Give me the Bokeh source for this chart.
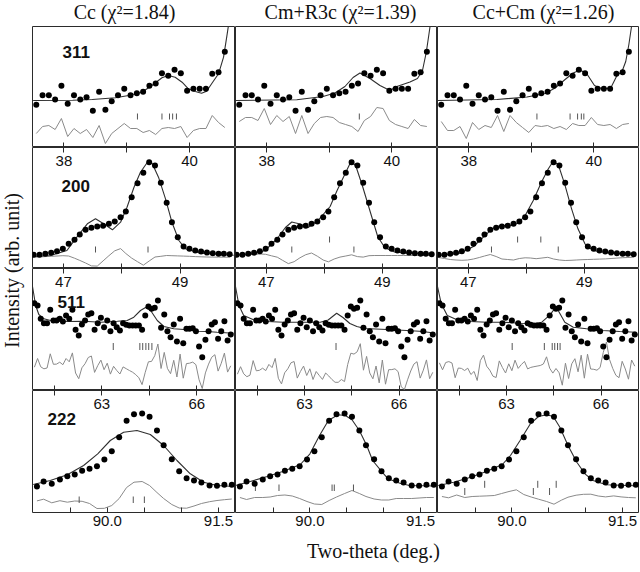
import math
from bokeh.plotting import figure
from bokeh.models import Range1d, LinearAxis, FixedTicker, Label, PrintfTickFormatter
from bokeh.layouts import row, column
from bokeh.embed import file_html
from bokeh.resources import INLINE

# ---------------- texts / axes ----------------
column_titles = ["Cc (\u03c7\u00b2=1.84)", "Cm+R3c (\u03c7\u00b2=1.39)", "Cc+Cm (\u03c7\u00b2=1.26)"]
reflections = ["311", "200", "511", "222"]
x_tick_labels = [[38, 40], [47, 49], [63, 66], [90.0, 91.5]]
x_minor_ticks = [[39], [48], [61.5, 64.5], [89.5, 90.5, 91.0]]
x_limits = [(37.50, 40.73), (46.47, 49.95), (60.81, 67.22), (88.99, 91.73)]
y_label = "Intensity (arb. unit)"
x_label = "Two-theta (deg.)"

# ---------------- 311 ----------------
r311_x = [37.56, 37.66, 37.76, 37.86, 37.96, 38.06, 38.16, 38.26, 38.36, 38.46, 38.56, 38.66, 38.76, 38.86,
          38.96, 39.06, 39.16, 39.26, 39.36, 39.46, 39.56, 39.66, 39.76, 39.86, 39.96, 40.06, 40.16, 40.26,
          40.36, 40.46, 40.56]
r311_obs = [42.7, 52.3, 52.3, 48.0, 61.7, 43.7, 52.3, 48.0, 50.3, 36.7, 55.7, 37.7, 46.3, 52.3, 58.7, 52.3,
            54.3, 55.7, 61.7, 64.0, 74.3, 71.7, 77.7, 74.3, 56.7, 58.7, 58.7, 58.7, 73.7, 75.3, 95.7]
r311_cc_calc_x = [37.51, 38.14, 38.45, 38.82, 39.03, 39.24, 39.40, 39.56, 39.66, 39.77, 39.88, 39.98, 40.09,
                  40.19, 40.27, 40.35, 40.46, 40.54, 40.59, 40.63, 40.68]
r311_cc_calc_y = [47, 47.3, 48, 49.7, 52, 55.3, 62, 69.7, 72, 70.3, 65.3, 58.7, 56, 54.3, 56.3, 63.7, 73.7,
                  90.3, 110.3, 127, 150]
r311_cc_diff = [14, 21, 22, 18, 29, 11, 19, 14, 18, 10, 22, 4, 14, 19, 24, 19, 19, 15, 17, 13, 19, 20, 19, 21,
                10, 17, 19, 19, 32, 25, 20]
r311_cc_ticks = [39.17, 39.56, 39.68, 39.73, 39.79]

r311_cmr3c_calc_x = [37.50, 38.48, 38.90, 39.09, 39.25, 39.38, 39.49, 39.65, 39.81, 39.97, 40.08, 40.29, 40.41,
                     40.49, 40.55, 40.59, 40.62, 40.68]
r311_cmr3c_calc_y = [47, 47.7, 51, 54.5, 61, 70, 74.5, 69, 62, 57, 61, 65.5, 69, 77, 95, 112, 125, 150]
r311_cmr3c_diff = [26, 30, 30, 27, 39, 23, 32, 26, 31, 14, 32, 14, 24, 30, 31, 30, 25, 23, 21, 16, 27, 31, 40,
                   39, 27, 23, 21, 19, 28, 22, 21]
r311_cmr3c_ticks = [39.48]

r311_cccm_calc_x = [37.50, 38.45, 38.93, 39.22, 39.38, 39.54, 39.67, 39.78, 39.89, 40.01, 40.14, 40.27, 40.37,
                    40.45, 40.51, 40.56, 40.60, 40.64, 40.68]
r311_cccm_calc_y = [47, 48, 50.5, 54, 59.5, 68, 74.5, 77.5, 73.5, 62, 58.5, 59.5, 72, 76, 86, 103, 120, 140, 160]
r311_cccm_diff = [26, 17, 17, 21, 9, 25, 18, 22, 20, 32, 16, 32, 25, 20, 15, 22, 21, 22, 19, 21, 18, 24, 22, 22,
                  30, 23, 22, 23, 19, 23, 24]
r311_cccm_ticks = [39.09, 39.62, 39.74, 39.80, 39.84]

# ---------------- 200 ----------------
r200_x = [46.49, 46.59, 46.69, 46.79, 46.89, 46.99, 47.09, 47.19, 47.28, 47.38, 47.48, 47.58, 47.68, 47.78,
          47.88, 47.98, 48.07, 48.17, 48.27, 48.37, 48.47, 48.57, 48.67, 48.77, 48.86, 48.96, 49.06, 49.16,
          49.26, 49.36, 49.46, 49.56, 49.66, 49.75, 49.85]
r200_obs = [13.7, 13.7, 14.7, 15.7, 17.3, 19.7, 24.7, 28.7, 34.0, 38.7, 40.7, 42.0, 42.7, 44.7, 47.0, 51.3,
            57.0, 71.3, 85.3, 95.7, 106.3, 103.0, 85.7, 65.7, 46.3, 31.3, 22.0, 19.7, 18.0, 17.0, 16.0, 15.3,
            14.7, 14.7, 14.3]
r200_cc_calc_x = [46.49, 46.78, 47.06, 47.23, 47.41, 47.55, 47.69, 47.84, 47.98, 48.09, 48.21, 48.32, 48.44,
                  48.52, 48.63, 48.75, 48.86, 48.98, 49.09, 49.35, 49.92]
r200_cc_calc_y = [12, 13, 18, 31.3, 44.7, 49.7, 44.7, 38.7, 46.3, 61.3, 81.3, 96.3, 106.3, 105.3, 91.3, 69.7,
                  46.3, 28, 19.7, 15.3, 13.3]
r200_cc_diff = [11.3, 11.6, 11.9, 12.2, 12.5, 12.8, 12.5, 10.3, 8.1, 5.5, 2.6, 2.4, 7.6, 12.8, 17.7, 19.9, 15.0,
                10.4, 6.8, 3.3, 7.5, 11.5, 12.2, 13.0, 12.8, 12.6, 12.4, 12.2, 11.9, 11.7, 11.5, 11.4, 11.4,
                11.3, 11.3]
r200_cc_ticks_a = [47.55, 48.45]
r200_cc_ticks_b = []

r200_cmr3c_calc_x = [46.47, 46.81, 46.98, 47.19, 47.33, 47.44, 47.58, 47.72, 47.89, 48.10, 48.22, 48.36, 48.46,
                     48.54, 48.66, 48.80, 48.92, 49.04, 49.21, 49.47, 49.85]
r200_cmr3c_calc_y = [13.5, 15, 18, 30, 41, 46.5, 44.5, 41, 48, 62, 78, 95, 107, 103, 82, 55, 32, 21, 16.5, 15,
                     14.5]
r200_cmr3c_diff = [13.1, 13.4, 13.8, 14.1, 14.5, 14.2, 12.7, 11.3, 8.2, 4.9, 6.8, 10.7, 13.8, 15.5, 12.3, 8.5,
                   6.7, 9.5, 11.4, 12.5, 13.7, 11.9, 11.4, 12.8, 13.0, 13.0, 13.0, 13.0, 13.0, 13.0, 13.0, 13.0,
                   13.0, 13.0, 13.0]
r200_cmr3c_ticks_a = [47.44, 48.51]
r200_cmr3c_ticks_b = [48.09]

r200_cccm_calc_x = [46.49, 46.86, 47.09, 47.26, 47.41, 47.55, 47.72, 47.86, 47.98, 48.12, 48.26, 48.38, 48.46,
                    48.55, 48.66, 48.78, 48.89, 49.01, 49.15, 49.44, 49.86]
r200_cccm_calc_y = [13, 15.3, 22, 31.3, 39.7, 43, 43, 45.3, 53, 68, 86.3, 99.7, 107, 104, 84.7, 59.7, 39.7,
                    24.7, 18, 15.3, 14]
r200_cccm_diff = [11, 10, 9, 8.5, 8.2, 8.5, 9.5, 11, 12.5, 14, 12, 9.5, 9, 8.5, 10, 10.7, 10.5, 9.8, 10.5, 11.2,
                  9.5, 8.5, 8, 8.2, 8.5, 8.8, 9, 9.2, 9.4, 9.6, 10, 10.4, 10.8, 11, 11.3]
r200_cccm_ticks_a = [47.40, 48.55]
r200_cccm_ticks_b = [47.85, 48.25]

# ---------------- 511 ----------------
r511_x = [60.87, 60.97, 61.07, 61.17, 61.27, 61.37, 61.47, 61.57, 61.67, 61.77, 61.87, 61.97, 62.07, 62.17,
          62.27, 62.37, 62.47, 62.57, 62.67, 62.77, 62.87, 62.97, 63.07, 63.17, 63.27, 63.37, 63.47, 63.57,
          63.67, 63.77, 63.87, 63.97, 64.07, 64.17, 64.27, 64.37, 64.47, 64.57, 64.67, 64.77, 64.87, 64.97,
          65.07, 65.17, 65.27, 65.37, 65.47, 65.57, 65.67, 65.77, 65.87, 65.97, 66.07, 66.17, 66.27, 66.37,
          66.47, 66.57, 66.67, 66.77, 66.87, 66.97, 67.07]
r511_obs = [87.3, 85.0, 71.7, 67.3, 67.3, 80.7, 70.0, 70.0, 71.7, 69.0, 75.0, 71.7, 80.7, 60.7, 55.0, 66.0,
            70.0, 76.0, 77.3, 60.7, 67.3, 72.7, 63.3, 70.0, 59.3, 67.3, 63.3, 60.0, 67.3, 65.7, 65.0, 65.0,
            65.0, 65.0, 60.7, 75.0, 84.0, 81.7, 82.7, 90.0, 62.7, 76.0, 59.3, 53.3, 66.0, 49.0, 71.7, 47.3,
            61.7, 61.7, 62.3, 59.3, 44.0, 33.3, 50.7, 59.3, 66.0, 68.3, 51.7, 59.3, 69.3, 50.0, 56.0]
r511_cc_calc_x = [60.81, 60.91, 61.01, 61.17, 61.38, 61.91, 62.43, 62.96, 63.49, 63.80, 64.01, 64.22, 64.38,
                  64.54, 64.75, 64.96, 65.27, 65.70, 66.01, 66.33, 66.64, 67.16]
r511_cc_calc_y = [104, 85, 76, 71.7, 70, 69, 69.3, 68.3, 69.3, 70, 73.3, 80, 83, 80, 70, 64, 61.7, 60.7, 59.3,
                  59, 58.3, 57.3]
r511_cc_diff = [23.3, 32, 23.7, 21.7, 22.5, 36.7, 26.2, 26.4, 28.3, 25.8, 32, 28.7, 37.6, 17.5, 11.8, 22.7,
                26.8, 33, 34.5, 18.1, 24.9, 30.4, 20.8, 27.3, 16.4, 24.2, 20, 16.5, 23.6, 21.8, 20, 18.3, 15.9,
                12.7, 5.9, 18.2, 28.7, 29.1, 34.8, 46.5, 22, 38.1, 22.1, 16.8, 30.2, 13.5, 36.4, 12.3, 26.9,
                27.3, 28.4, 25.8, 10.7, 2, 17.6, 26.4, 33.3, 35.8, 19.4, 27.2, 37.4, 18.4, 24.7]
r511_cc_ticks = [63.36, 64.20, 64.29, 64.39, 64.48, 64.58]

r511_cmr3c_calc_x = [60.81, 60.92, 61.07, 61.38, 61.82, 62.33, 62.86, 63.50, 63.75, 64.02, 64.22, 64.44, 64.66,
                     64.92, 65.61, 66.24, 66.65, 67.13]
r511_cmr3c_calc_y = [104, 85, 75, 70.7, 69, 68.3, 68.3, 68.3, 70.5, 77.3, 73, 67, 64, 62, 61, 60, 59.3, 57.5]
r511_cmr3c_diff = [16.3, 23.8, 16.7, 13.8, 15.3, 29.9, 19.7, 20.2, 22.3, 19.9, 26.1, 22.9, 32.1, 12.2, 6.6,
                   17.7, 21.7, 27.7, 29, 12.4, 19, 24.4, 15, 21.7, 11, 19, 15, 11.1, 17.5, 14.5, 11, 8.2, 8.2,
                   11, 8.9, 26, 37.3, 36.4, 38.7, 46.8, 20.3, 34.1, 17.5, 11.7, 24.5, 7.6, 30.5, 6.3, 20.8,
                   20.9, 21.7, 18.9, 3.7, 1, 10.7, 19.5, 26.4, 28.8, 12.4, 20.3, 30.6, 11.8, 18.2]
r511_cmr3c_ticks = [64.00]

r511_cccm_calc_x = [60.81, 60.93, 61.12, 61.43, 61.85, 62.38, 62.91, 63.43, 63.85, 64.12, 64.38, 64.54, 64.64,
                    64.85, 65.12, 65.54, 66.06, 66.59, 67.12]
r511_cccm_calc_y = [104, 86.7, 75, 70.7, 69, 68.3, 68.3, 67.3, 66.7, 68.3, 75.7, 82.3, 80, 68.3, 63.3, 61.7,
                    60, 59, 58.3]
r511_cccm_diff = [27.7, 20.7, 28, 28.9, 27.5, 12.8, 22.5, 22.1, 20, 22.3, 16, 19.1, 10, 29.9, 35.4, 24.3, 20.3,
                  14.3, 13, 29.6, 23, 17.5, 26.7, 19.8, 30.3, 22.1, 25.9, 29.1, 21.6, 23.1, 23.8, 24.4, 25,
                  26.5, 33.7, 22.3, 17.4, 22, 17.7, 5.3, 27.3, 12, 26.7, 31.8, 18.7, 35.3, 12.3, 36.3, 21.5,
                  21.2, 20.3, 23, 38, 48.5, 30.9, 22.1, 15.2, 12.8, 29.2, 21.5, 11.3, 30.5, 24.3]
r511_cccm_ticks = [63.18, 64.20, 64.45, 64.53, 64.62, 64.70]

# ---------------- 222 ----------------
r222_x = [89.05, 89.14, 89.25, 89.36, 89.46, 89.56, 89.66, 89.76, 89.86, 89.96, 90.06, 90.16, 90.26, 90.36,
          90.47, 90.57, 90.67, 90.76, 90.87, 90.97, 91.07, 91.17, 91.27, 91.38, 91.48, 91.58, 91.68]
r222_obs = [26.0, 31.0, 28.7, 33.0, 36.3, 38.0, 41.7, 43.7, 46.3, 53.0, 61.3, 75.3, 91.7, 98.3, 99.0, 95.7,
            82.0, 67.3, 53.3, 41.3, 34.3, 32.0, 30.0, 27.0, 26.7, 27.7, 27.7]
r222_cc_calc_x = [89.00, 89.23, 89.46, 89.68, 89.87, 90.04, 90.22, 90.40, 90.58, 90.76, 90.94, 91.12, 91.30,
                  91.48, 91.71]
r222_cc_calc_y = [28, 32, 37.7, 47, 58.7, 72, 80.3, 82, 78, 67, 52, 38.7, 30.3, 27, 26]
r222_cc_diff = [11.6, 13.3, 9.7, 11.8, 10.3, 11.5, 11.2, 9.0, 4.0, 4.2, 7.0, 14.0, 25.0, 30.3, 31.0, 27.0, 20.0,
                14.0, 8.0, 4.5, 4.3, 6.5, 9.0, 10.8, 12.0, 12.8, 13.5]
r222_cc_ticks = [89.62, 90.35, 90.50]

r222_cmr3c_calc_x = [88.99, 89.19, 89.42, 89.64, 89.87, 90.00, 90.13, 90.25, 90.38, 90.48, 90.57, 90.67, 90.77,
                     90.85, 90.98, 91.06, 91.22, 91.35, 91.69]
r222_cmr3c_calc_y = [27, 31, 36, 41.3, 48, 58.7, 77, 92, 97.7, 97, 92.7, 82, 67, 52, 40.3, 33.7, 29.3, 27, 26.5]
r222_cmr3c_diff = [15, 13, 15, 15, 15.5, 17, 17.5, 16.5, 14, 11, 8.5, 8, 12, 15.5, 19, 22, 19, 16, 13.5, 12.5,
                   12.5, 14, 14, 14, 14.5, 15, 15]
r222_cmr3c_ticks = [89.26, 89.58, 90.30, 90.33, 90.59]

r222_cccm_calc_x = [89.00, 89.21, 89.44, 89.66, 89.87, 89.98, 90.11, 90.25, 90.36, 90.47, 90.56, 90.65, 90.76,
                    90.88, 90.99, 91.10, 91.28, 91.66]
r222_cccm_calc_y = [27, 30.3, 35.3, 41.3, 48, 57, 72, 88.7, 96, 97.7, 96, 85.3, 67, 50.3, 38.7, 32, 27.7, 26.7]
r222_cccm_diff = [16, 14.7, 17.5, 15, 16, 16.3, 16.6, 17, 19, 21, 22.7, 18, 15.5, 13.3, 11, 8.3, 12.3, 15.3,
                  17.3, 18.2, 18.3, 16.5, 15.6, 16.6, 15.6, 15, 14.7]
r222_cccm_ticks_a = [89.36, 90.29, 90.51]
r222_cccm_ticks_b = [89.63, 90.35, 90.60]

# ---------------- assemble ----------------
row_x = [r311_x, r200_x, r511_x, r222_x]
row_obs = [r311_obs, r200_obs, r511_obs, r222_obs]
calc_x = [[r311_cc_calc_x, r311_cmr3c_calc_x, r311_cccm_calc_x],
          [r200_cc_calc_x, r200_cmr3c_calc_x, r200_cccm_calc_x],
          [r511_cc_calc_x, r511_cmr3c_calc_x, r511_cccm_calc_x],
          [r222_cc_calc_x, r222_cmr3c_calc_x, r222_cccm_calc_x]]
calc_y = [[r311_cc_calc_y, r311_cmr3c_calc_y, r311_cccm_calc_y],
          [r200_cc_calc_y, r200_cmr3c_calc_y, r200_cccm_calc_y],
          [r511_cc_calc_y, r511_cmr3c_calc_y, r511_cccm_calc_y],
          [r222_cc_calc_y, r222_cmr3c_calc_y, r222_cccm_calc_y]]
diffs = [[r311_cc_diff, r311_cmr3c_diff, r311_cccm_diff],
         [r200_cc_diff, r200_cmr3c_diff, r200_cccm_diff],
         [r511_cc_diff, r511_cmr3c_diff, r511_cccm_diff],
         [r222_cc_diff, r222_cmr3c_diff, r222_cccm_diff]]
# reflection ticks: list of (positions, (bottom, top) level) per panel
refl = [[[(r311_cc_ticks, (28, 34))], [(r311_cmr3c_ticks, (28, 34))], [(r311_cccm_ticks, (28, 34))]],
        [[(r200_cc_ticks_a, (16, 22)), (r200_cc_ticks_b, (26, 32))],
         [(r200_cmr3c_ticks_a, (16, 22)), (r200_cmr3c_ticks_b, (26, 32))],
         [(r200_cccm_ticks_a, (16, 22)), (r200_cccm_ticks_b, (26, 32))]],
        [[(r511_cc_ticks, (40.5, 47.5))], [(r511_cmr3c_ticks, (40.5, 47.5))], [(r511_cccm_ticks, (40.5, 47.5))]],
        [[(r222_cc_ticks, (9.5, 16))], [(r222_cmr3c_ticks, (21.5, 28))],
         [(r222_cccm_ticks_a, (17.5, 24.5)), (r222_cccm_ticks_b, (24.7, 31.7))]]]

# ---------------- layout constants ----------------
COL_W = [203, 202, 202]
ROW_H = [121, 121, 122, 122]
BOTTOM_AX = 22
LEFT_W = 32
TITLE_H = 26
XLAB_H = 36
SANS = "Liberation Sans"
SERIF = "Liberation Serif"
FRAME = "#2b2b2b"
TICK_FMT = ["%d", "%d", "%d", "%.1f"]


def tick_axis(r, labelled, **kw):
    if labelled:
        ticker = FixedTicker(ticks=x_tick_labels[r], minor_ticks=x_minor_ticks[r])
    else:
        ticker = FixedTicker(ticks=[], minor_ticks=x_tick_labels[r] + x_minor_ticks[r])
    ax = LinearAxis(ticker=ticker, formatter=PrintfTickFormatter(format=TICK_FMT[r]), **kw)
    ax.axis_line_color = None
    ax.major_tick_line_color = FRAME
    ax.minor_tick_line_color = FRAME
    ax.major_label_text_font = SANS
    ax.major_label_text_font_size = "15px"
    ax.major_label_text_color = "#111111"
    return ax


def panel(r, c):
    h = ROW_H[r] + (BOTTOM_AX if r == 3 else 0)
    p = figure(width=COL_W[c], height=h, x_range=Range1d(*x_limits[r]), y_range=Range1d(0, ROW_H[r]),
               x_axis_location=None, y_axis_location=None, toolbar_location=None,
               output_backend="svg", min_border_left=0, min_border_right=0, min_border_top=0,
               min_border_bottom=BOTTOM_AX if r == 3 else 0)
    p.grid.visible = False
    p.outline_line_color = FRAME
    p.outline_line_width = 1
    p.background_fill_color = "white"
    p.border_fill_color = "white"

    # own bottom ticks (pointing into the panel)
    if r < 3:
        own = tick_axis(r, False, fixed_location=0, major_tick_in=5, major_tick_out=0, minor_tick_in=5,
                        minor_tick_out=0)
    else:
        own = tick_axis(r, True, major_tick_in=5, major_tick_out=0, minor_tick_in=5, minor_tick_out=0,
                        major_label_standoff=3)
    p.add_layout(own, "below")

    # ticks + labels of the row above, hanging from the top edge into this panel
    if r > 0:
        p.extra_x_ranges = {"prev": Range1d(*x_limits[r - 1])}
        top = tick_axis(r - 1, True, x_range_name="prev", fixed_location=ROW_H[r], major_tick_in=0,
                        major_tick_out=5, minor_tick_in=0, minor_tick_out=5, major_label_standoff=3)
        p.add_layout(top, "below")

    x = row_x[r]
    p.line(x, diffs[r][c], line_color="#8a8a8a", line_width=1)
    for xs, (lo, hi) in refl[r][c]:
        if xs:
            p.segment(x0=xs, y0=[lo] * len(xs), x1=xs, y1=[hi] * len(xs), line_color="#555555", line_width=1)
    p.line(calc_x[r][c], calc_y[r][c], line_color="#303030", line_width=1.1)
    p.scatter(x, row_obs[r], size=6, fill_color="black", line_color=None)

    if c == 0:
        lab_pos = [(30, 90), (29, 77), (25, 83), (15, 88)]
        lx, ly = lab_pos[r]
        p.add_layout(Label(x=lx, y=ly, x_units="screen", y_units="screen", text=reflections[r],
                           text_font=SANS, text_font_style="bold", text_font_size="17px",
                           text_color="#111111"))
    return p


def strip(w, h):
    s = figure(width=w, height=h, x_range=Range1d(0, 1), y_range=Range1d(0, 1),
               x_axis_location=None, y_axis_location=None, toolbar_location=None,
               output_backend="svg", min_border=0)
    s.grid.visible = False
    s.outline_line_color = None
    return s


cols = []
for c in range(3):
    cols.append(column([panel(r, c) for r in range(4)], spacing=0))
grid = row(cols, spacing=0)

grid_w = sum(COL_W)
title_fig = strip(grid_w, TITLE_H)
for cx, t in zip([92, 308, 511], column_titles):
    title_fig.add_layout(Label(x=cx, y=4, x_units="screen", y_units="screen", text=t, text_align="center",
                               text_font=SERIF, text_font_size="20px", text_color="#111111"))

xlab_fig = strip(grid_w, XLAB_H)
xlab_fig.add_layout(Label(x=341, y=9, x_units="screen", y_units="screen", text=x_label, text_align="center",
                          text_font=SERIF, text_font_size="20px", text_color="#111111"))

total_h = TITLE_H + sum(ROW_H) + BOTTOM_AX + XLAB_H
ylab_fig = strip(LEFT_W, total_h)
ylab_fig.add_layout(Label(x=22, y=total_h - 270, x_units="screen", y_units="screen", text=y_label,
                          angle=math.pi / 2, text_align="center", text_font=SERIF, text_font_size="20px",
                          text_color="#111111"))

layout = row(ylab_fig, column(title_fig, grid, xlab_fig, spacing=0), spacing=0)

open("out.html", "w").write(file_html(layout, INLINE))
